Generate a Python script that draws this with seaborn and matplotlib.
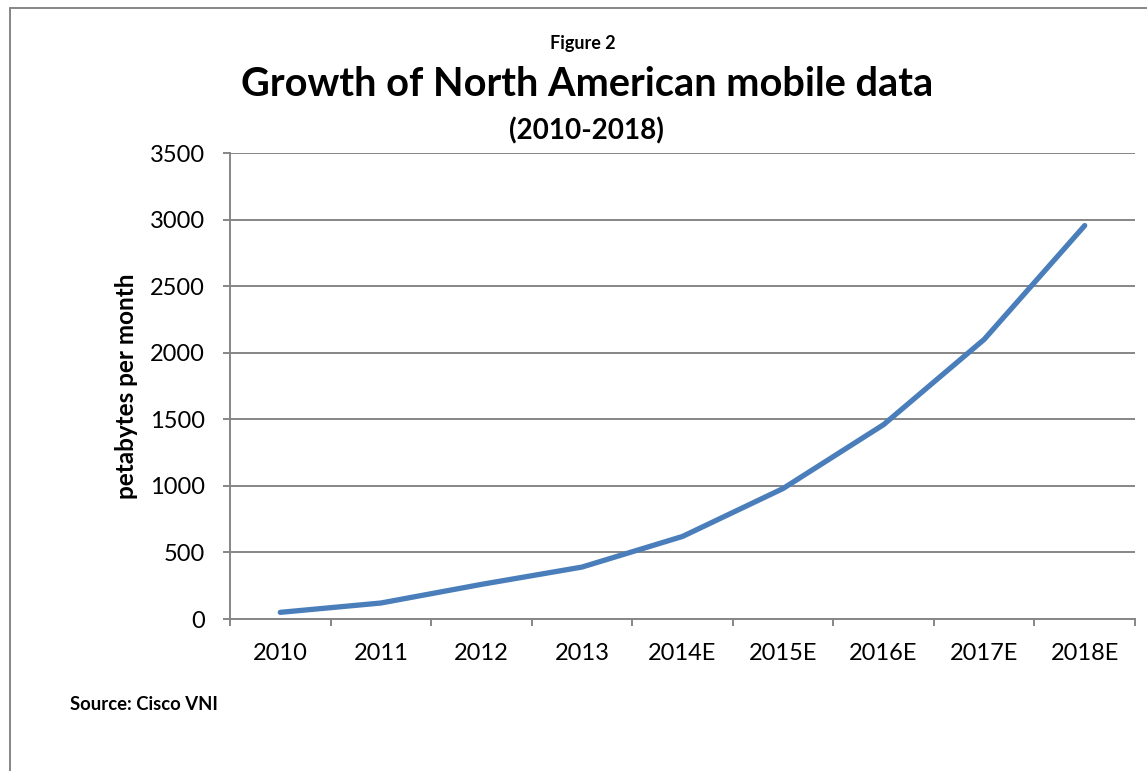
import matplotlib
matplotlib.use("Agg")
import matplotlib.pyplot as plt
from matplotlib.lines import Line2D
from matplotlib.ticker import FixedLocator, NullFormatter
import seaborn as sns
import pandas as pd

# Monthly mobile data traffic, North America (petabytes per month)
years = ["2010", "2011", "2012", "2013", "2014E", "2015E", "2016E", "2017E", "2018E"]
petabytes = [50, 120, 260, 390, 620, 980, 1460, 2100, 2955]
y_ticks = [0, 500, 1000, 1500, 2000, 2500, 3000, 3500]

df = pd.DataFrame({"year": years, "petabytes": petabytes})

sns.set_theme(style="white")
plt.rcParams["font.family"] = ["Lato", "DejaVu Sans"]

W, H = 1147, 771
fig = plt.figure(figsize=(W / 100, H / 100), dpi=100)
fig.patch.set_facecolor("white")

# plot area in pixel terms
left, right, top, bottom = 230, 1135, 153, 619
ax = fig.add_axes([left / W, 1 - bottom / H, (right - left) / W, (bottom - top) / H])

grid_c = "#868686"
sns.lineplot(data=df, x="year", y="petabytes", ax=ax, color="#4A7EBB",
             linewidth=3.8, solid_capstyle="round", solid_joinstyle="round",
             sort=False, zorder=3)

ax.set_xlim(-0.5, len(years) - 0.5)
ax.set_ylim(0, 3500)
ax.set_yticks(y_ticks)
ax.set_yticklabels([str(v) for v in y_ticks])
ax.yaxis.grid(True, color=grid_c, linewidth=1.4)
ax.xaxis.grid(False)

# category labels at centres, tick marks between categories
ax.set_xticks(range(len(years)))
ax.set_xticklabels(years)
ax.xaxis.set_minor_locator(FixedLocator([i - 0.5 for i in range(len(years) + 1)]))
ax.xaxis.set_minor_formatter(NullFormatter())
ax.tick_params(axis="x", which="major", length=0, pad=17, labelsize=17, colors="black")
ax.tick_params(axis="x", which="minor", length=5, width=1.4, color=grid_c, bottom=True)
ax.tick_params(axis="y", which="major", length=5, width=1.4, color=grid_c, left=True,
               pad=13, labelsize=17, labelcolor="black")

for s in ["top", "right"]:
    ax.spines[s].set_visible(False)
for s in ["left", "bottom"]:
    ax.spines[s].set_color(grid_c)
    ax.spines[s].set_linewidth(1.4)

ax.set_xlabel("")
ax.set_ylabel("petabytes per month", fontsize=17.5, fontweight="bold", color="black")
ax.yaxis.set_label_coords((138 - left) / (right - left), 0.5)

# titles
fig.text(583 / W, 1 - 43 / H, "Figure 2", ha="center", va="center",
         fontsize=13, fontweight="bold", color="black")
fig.text(587 / W, 1 - 84 / H, "Growth of North American mobile data", ha="center",
         va="center", fontsize=28.6, fontweight="bold", color="black")
fig.text(586 / W, 1 - 131 / H, "(2010-2018)", ha="center", va="center",
         fontsize=20, fontweight="bold", color="black")
fig.text(70 / W, 1 - 704 / H, "Source: Cisco VNI", ha="left", va="center",
         fontsize=13.3, fontweight="bold", color="black")

# chart frame (open on the right and bottom)
fig.add_artist(Line2D([10 / W, 10 / W], [0, 1 - 8 / H], transform=fig.transFigure,
                      color=grid_c, linewidth=1.4))
fig.add_artist(Line2D([10 / W, 1], [1 - 8 / H, 1 - 8 / H], transform=fig.transFigure,
                      color=grid_c, linewidth=1.4))

fig.savefig("out.png", dpi=100, facecolor="white")
